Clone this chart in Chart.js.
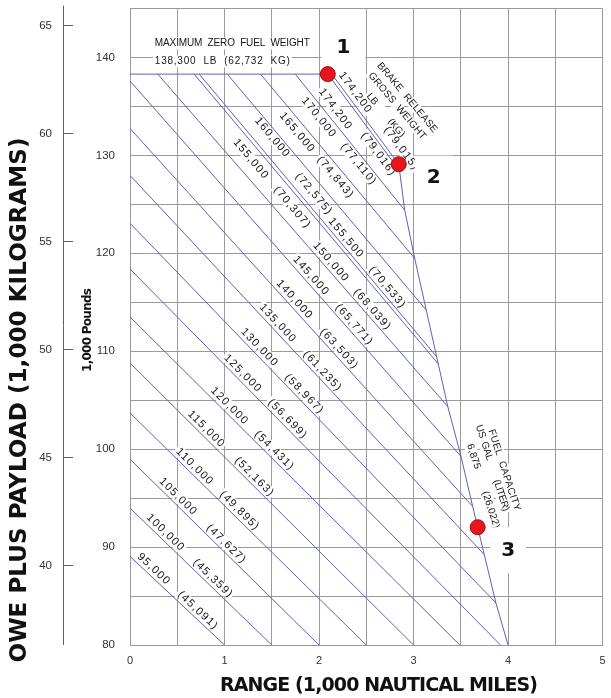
<!DOCTYPE html>
<html>
<head>
<meta charset="utf-8">
<script src="https://cdn.jsdelivr.net/npm/chart.js@4.4.1/dist/chart.umd.min.js"></script>
<style>
  html, body { margin: 0; padding: 0; background: #ffffff; }
  canvas { display: block; }
</style>
</head>
<body>
<canvas id="chart" width="611" height="698"></canvas>
<script>
// ---- Axes ----
const rangeTicks = [0, 1, 2, 3, 4, 5];                 // 1,000 nautical miles
const payloadLbTicks = [80, 90, 100, 110, 120, 130, 140]; // 1,000 lb
const payloadKgTicks = [40, 45, 50, 55, 60, 65];          // 1,000 kg
const LB_PER_KG = 2.20462;

// ---- Brake release gross weight lines ----
const grossWeightLb = ['95,000', '100,000', '105,000', '110,000', '115,000', '120,000', '125,000',
  '130,000', '135,000', '140,000', '145,000', '150,000', '155,000', '155,500', '160,000',
  '165,000', '170,000', '174,200', '174,200'];
const grossWeightKg = ['(45,091)', '(45,359)', '(47,627)', '(49,895)', '(52,163)', '(54,431)', '(56,699)',
  '(58,967)', '(61,235)', '(63,503)', '(65,771)', '(68,039)', '(70,307)', '(70,533)', '(72,575)',
  '(74,843)', '(77,110)', '(79,016)', '(79,015)'];
const lineStartRange = [0, 0, 0, 0, 0, 0, 0, 0, 0, 0, 0, 0.293, 0.679, 0.732, 1.029, 1.381, 1.749, 2.093, 2.135];
const lineStartPayload = [89.05, 93.98, 98.98, 103.7, 108.8, 113.5, 118.4, 123.07, 127.96, 132.75, 137.6,
  138.3, 138.3, 138.3, 138.3, 138.3, 138.3, 138.3, 138.3];
const lineEndRange = [1.0, 1.5, 2.0, 2.5, 3.0, 3.49, 3.92, 3.872, 3.749, 3.626, 3.503, 3.363, 3.262, 3.245,
  3.135, 3.013, 2.907, 2.853, 2.844];
const lineEndPayload = [80, 80, 80, 80, 80, 80, 80, 84.3, 89.23, 94.15, 99.25, 104.34, 108.71, 109.44,
  114.2, 119.47, 124.4, 128.43, 129.1];

// ---- Fuel capacity limit ----
const fuelLimitRange = [2.844, 2.907, 3.013, 3.135, 3.245, 3.262, 3.363, 3.503, 3.626, 3.749, 3.872, 4.0];
const fuelLimitPayload = [129.1, 124.4, 119.47, 114.2, 109.44, 108.71, 104.34, 99.25, 94.15, 89.23, 84.3, 80];

// ---- Maximum zero fuel weight ----
const zeroFuelRange = [0, 2.093];
const zeroFuelPayload = [138.3, 138.3];

// ---- Marked points ----
const pointTags = ['1', '2', '3'];
const pointRange = [2.093, 2.844, 3.679];
const pointPayload = [138.3, 129.1, 92.03];

// ---- Text placement ----
// one value: range at which the label sits just above its own line;
// two values: free [range, payload] position
const lbLabelAt = [[0.197], [0.321], [0.453], [0.629], [0.752], [0.997], [1.137], [1.313], [1.506],
  [1.682], [1.857], [2.068], [1.276, 129.66], [2.226], [1.503, 131.87], [1.766, 132.38], [1.995, 133.9],
  [2.171, 134.76], [2.381, 136.45]];
const kgLabelAt = [[0.664], [0.822], [0.963], [1.103], [1.261], [1.471], [1.611], [1.787], [1.979],
  [2.155], [2.313], [2.506], [1.714, 124.73], [2.664], [1.942, 126.1], [2.171, 127.79], [2.416, 129.15],
  [2.626, 130.17], [2.868, 130.74]];
const LABEL_GAP = 7;
const tagAt = [[2.258, 141.13], [3.214, 127.78], [4.002, 89.68]];
const tagBox = [[44, 34], [38, 43], [36, 46]];

const LINE_BLUE = '#5a63b6';
const GRID = '#9a9a9a';
const TEXT = '#161616';
const labelFont = '11px "Liberation Sans", Arial, sans-serif';
const noteFont = '10px "Liberation Sans", Arial, sans-serif';
const boldFont = '"DejaVu Sans", Verdana, sans-serif';

function xy(r, p) { return { x: r, y: p }; }

const datasets = [];
datasets.push({
  data: pointRange.map((r, i) => xy(r, pointPayload[i])),
  showLine: false, pointRadius: 7.5, pointHoverRadius: 7.5,
  pointBackgroundColor: '#e8161c', pointBorderColor: '#9a1012', pointBorderWidth: 1
});
for (let i = 0; i < grossWeightLb.length; i++) {
  datasets.push({
    data: [xy(lineStartRange[i], lineStartPayload[i]), xy(lineEndRange[i], lineEndPayload[i])],
    showLine: true, borderColor: LINE_BLUE, borderWidth: 1, pointRadius: 0
  });
}
datasets.push({
  data: fuelLimitRange.map((r, i) => xy(r, fuelLimitPayload[i])),
  showLine: true, borderColor: LINE_BLUE, borderWidth: 1, pointRadius: 0
});
datasets.push({
  data: zeroFuelRange.map((r, i) => xy(r, zeroFuelPayload[i])),
  showLine: true, borderColor: LINE_BLUE, borderWidth: 1, pointRadius: 0
});

// Draw text, optionally stretched to a given width and set on a white box
function drawText(ctx, text, cx, cy, angle, o) {
  ctx.save();
  ctx.translate(cx, cy);
  ctx.rotate(angle || 0);
  ctx.font = o.font;
  let ls = o.spacing || 0;
  if ('letterSpacing' in ctx) {
    ctx.letterSpacing = '0px';
    if (o.width) {
      const w0 = ctx.measureText(text).width;
      ls = (o.width - w0) / Math.max(1, text.length - 1);
    }
    ctx.letterSpacing = ls.toFixed(2) + 'px';
  } else { ls = 0; }
  const w = ctx.measureText(text).width - ls;
  const x0 = o.align === 'left' ? 0 : -w / 2;
  if (o.box) {
    ctx.fillStyle = '#ffffff';
    ctx.fillRect(x0 - 2, -o.box / 2, w + 4, o.box);
  }
  ctx.fillStyle = o.color || TEXT;
  ctx.textAlign = 'left';
  ctx.textBaseline = 'middle';
  ctx.fillText(text, x0, 0);
  ctx.restore();
}

const notes = {
  id: 'notes',
  beforeDatasetsDraw(chart) {
    const ctx = chart.ctx, sx = chart.scales.x, sy = chart.scales.y;
    const X = v => sx.getPixelForValue(v), Y = v => sy.getPixelForValue(v);

    // maximum zero fuel weight
    drawText(ctx, 'MAXIMUM  ZERO  FUEL  WEIGHT', X(0.263), Y(141.43), 0, { font: noteFont, width: 155, box: 12, align: 'left' });
    drawText(ctx, '138,300  LB  (62,732  KG)', X(0.263), Y(139.6), 0, { font: noteFont, width: 135, box: 12, align: 'left' });

    // brake release gross weight heading
    const aB = 50 * Math.PI / 180;
    drawText(ctx, 'BRAKE  RELEASE', X(2.933), Y(135.9), aB, { font: noteFont, width: 88, box: 10 });
    drawText(ctx, 'GROSS  WEIGHT', X(2.826), Y(135.05), aB, { font: noteFont, width: 84, box: 10 });
    drawText(ctx, 'LB        (KG)', X(2.705), Y(134.1), aB, { font: noteFont, width: 54, box: 10 });

    // fuel capacity heading
    const aF = 72 * Math.PI / 180;
    drawText(ctx, 'FUEL  CAPACITY', X(3.960), Y(97.86), aF, { font: noteFont, width: 85, box: 12 });
    drawText(ctx, 'US  GAL         (LITER)', X(3.834), Y(98.08), aF, { font: noteFont, width: 90, box: 12 });
    drawText(ctx, '6,875        (26,022)', X(3.737), Y(96.22), aF, { font: noteFont, width: 88, box: 12 });

    // weight labels along each line
    for (let i = 0; i < grossWeightLb.length; i++) {
      const x1 = X(lineStartRange[i]), y1 = Y(lineStartPayload[i]);
      const x2 = X(lineEndRange[i]), y2 = Y(lineEndPayload[i]);
      const a = Math.atan2(y2 - y1, x2 - x1);
      const place = at => {
        if (at.length === 2) return [X(at[0]), Y(at[1])];
        const px = X(at[0]);
        const py = y1 + (px - x1) * (y2 - y1) / (x2 - x1);
        return [px + LABEL_GAP * Math.sin(a), py - LABEL_GAP * Math.cos(a)];
      };
      const p = place(lbLabelAt[i]), q = place(kgLabelAt[i]);
      drawText(ctx, grossWeightLb[i], p[0], p[1], a, { font: labelFont, spacing: 1.3, box: 11 });
      drawText(ctx, grossWeightKg[i], q[0], q[1], a, { font: labelFont, spacing: 1.3, box: 11 });
    }

    // point tags
    for (let i = 0; i < pointTags.length; i++) {
      const px = X(tagAt[i][0]), py = Y(tagAt[i][1]);
      ctx.fillStyle = '#ffffff';
      ctx.fillRect(px - tagBox[i][0] / 2, py - tagBox[i][1] / 2, tagBox[i][0], tagBox[i][1]);
      drawText(ctx, pointTags[i], px, py + 1, 0, { font: 'bold 20px ' + boldFont, color: '#111' });
    }
  },
  afterDraw(chart) {
    const ctx = chart.ctx, sy = chart.scales.y, area = chart.chartArea;
    // kilogram axis
    const ax = 63;
    ctx.save();
    ctx.strokeStyle = '#5e5e5e';
    ctx.lineWidth = 1;
    ctx.beginPath();
    ctx.moveTo(ax + 0.5, area.top - 3);
    ctx.lineTo(ax + 0.5, area.bottom);
    ctx.stroke();
    ctx.font = '11.5px "Liberation Sans", Arial, sans-serif';
    ctx.fillStyle = '#333';
    ctx.textAlign = 'right';
    ctx.textBaseline = 'middle';
    payloadKgTicks.forEach(k => {
      const py = Math.round(sy.getPixelForValue(k * LB_PER_KG)) + 0.5;
      ctx.beginPath();
      ctx.moveTo(ax, py);
      ctx.lineTo(ax + 10, py);
      ctx.stroke();
      ctx.fillText(String(k), 52, py);
    });
    ctx.restore();

    // axis titles
    drawText(ctx, 'RANGE (1,000 NAUTICAL MILES)', 379, 686, 0, { font: 'bold 19px ' + boldFont, width: 318, color: '#111' });
    drawText(ctx, 'OWE PLUS PAYLOAD (1,000 KILOGRAMS)', 20, 400, -Math.PI / 2, { font: 'bold 23px ' + boldFont, width: 525, color: '#111' });
    drawText(ctx, '1,000 Pounds', 88, 330, -Math.PI / 2, { font: 'bold 12px ' + boldFont, width: 84, color: '#111' });
  }
};

// keep the plot frame where the axes put it, without extra room for edge labels
function noEdgePadding(s) {
  s.paddingTop = 0; s.paddingBottom = 0; s.paddingLeft = 0; s.paddingRight = 0;
}

new Chart(document.getElementById('chart'), {
  type: 'scatter',
  data: { datasets },
  options: {
    responsive: false,
    animation: false,
    devicePixelRatio: 1,
    layout: { padding: { top: 7, right: 5, left: 0, bottom: 0 } },
    plugins: { legend: { display: false }, tooltip: { enabled: false } },
    scales: {
      x: {
        type: 'linear', min: 0, max: 5,
        afterFit: s => { s.height = 53; noEdgePadding(s); },
        grid: { color: GRID, lineWidth: 1, drawTicks: false },
        border: { display: true, color: GRID },
        ticks: {
          stepSize: 0.5, padding: 9, maxRotation: 0, autoSkip: false,
          color: '#333', font: { family: '"Liberation Sans", Arial, sans-serif', size: 11 },
          callback: v => rangeTicks.includes(v) ? String(v) : ''
        }
      },
      y: {
        type: 'linear', min: 80, max: 145,
        afterFit: s => { s.width = 130; noEdgePadding(s); },
        grid: { color: GRID, lineWidth: 1, drawTicks: false },
        border: { display: true, color: GRID },
        ticks: {
          stepSize: 5, padding: 15, autoSkip: false,
          color: '#333', font: { family: '"Liberation Sans", Arial, sans-serif', size: 11.5 },
          callback: v => payloadLbTicks.includes(v) ? String(v) : ''
        }
      }
    }
  },
  plugins: [notes]
});
</script>
</body>
</html>
